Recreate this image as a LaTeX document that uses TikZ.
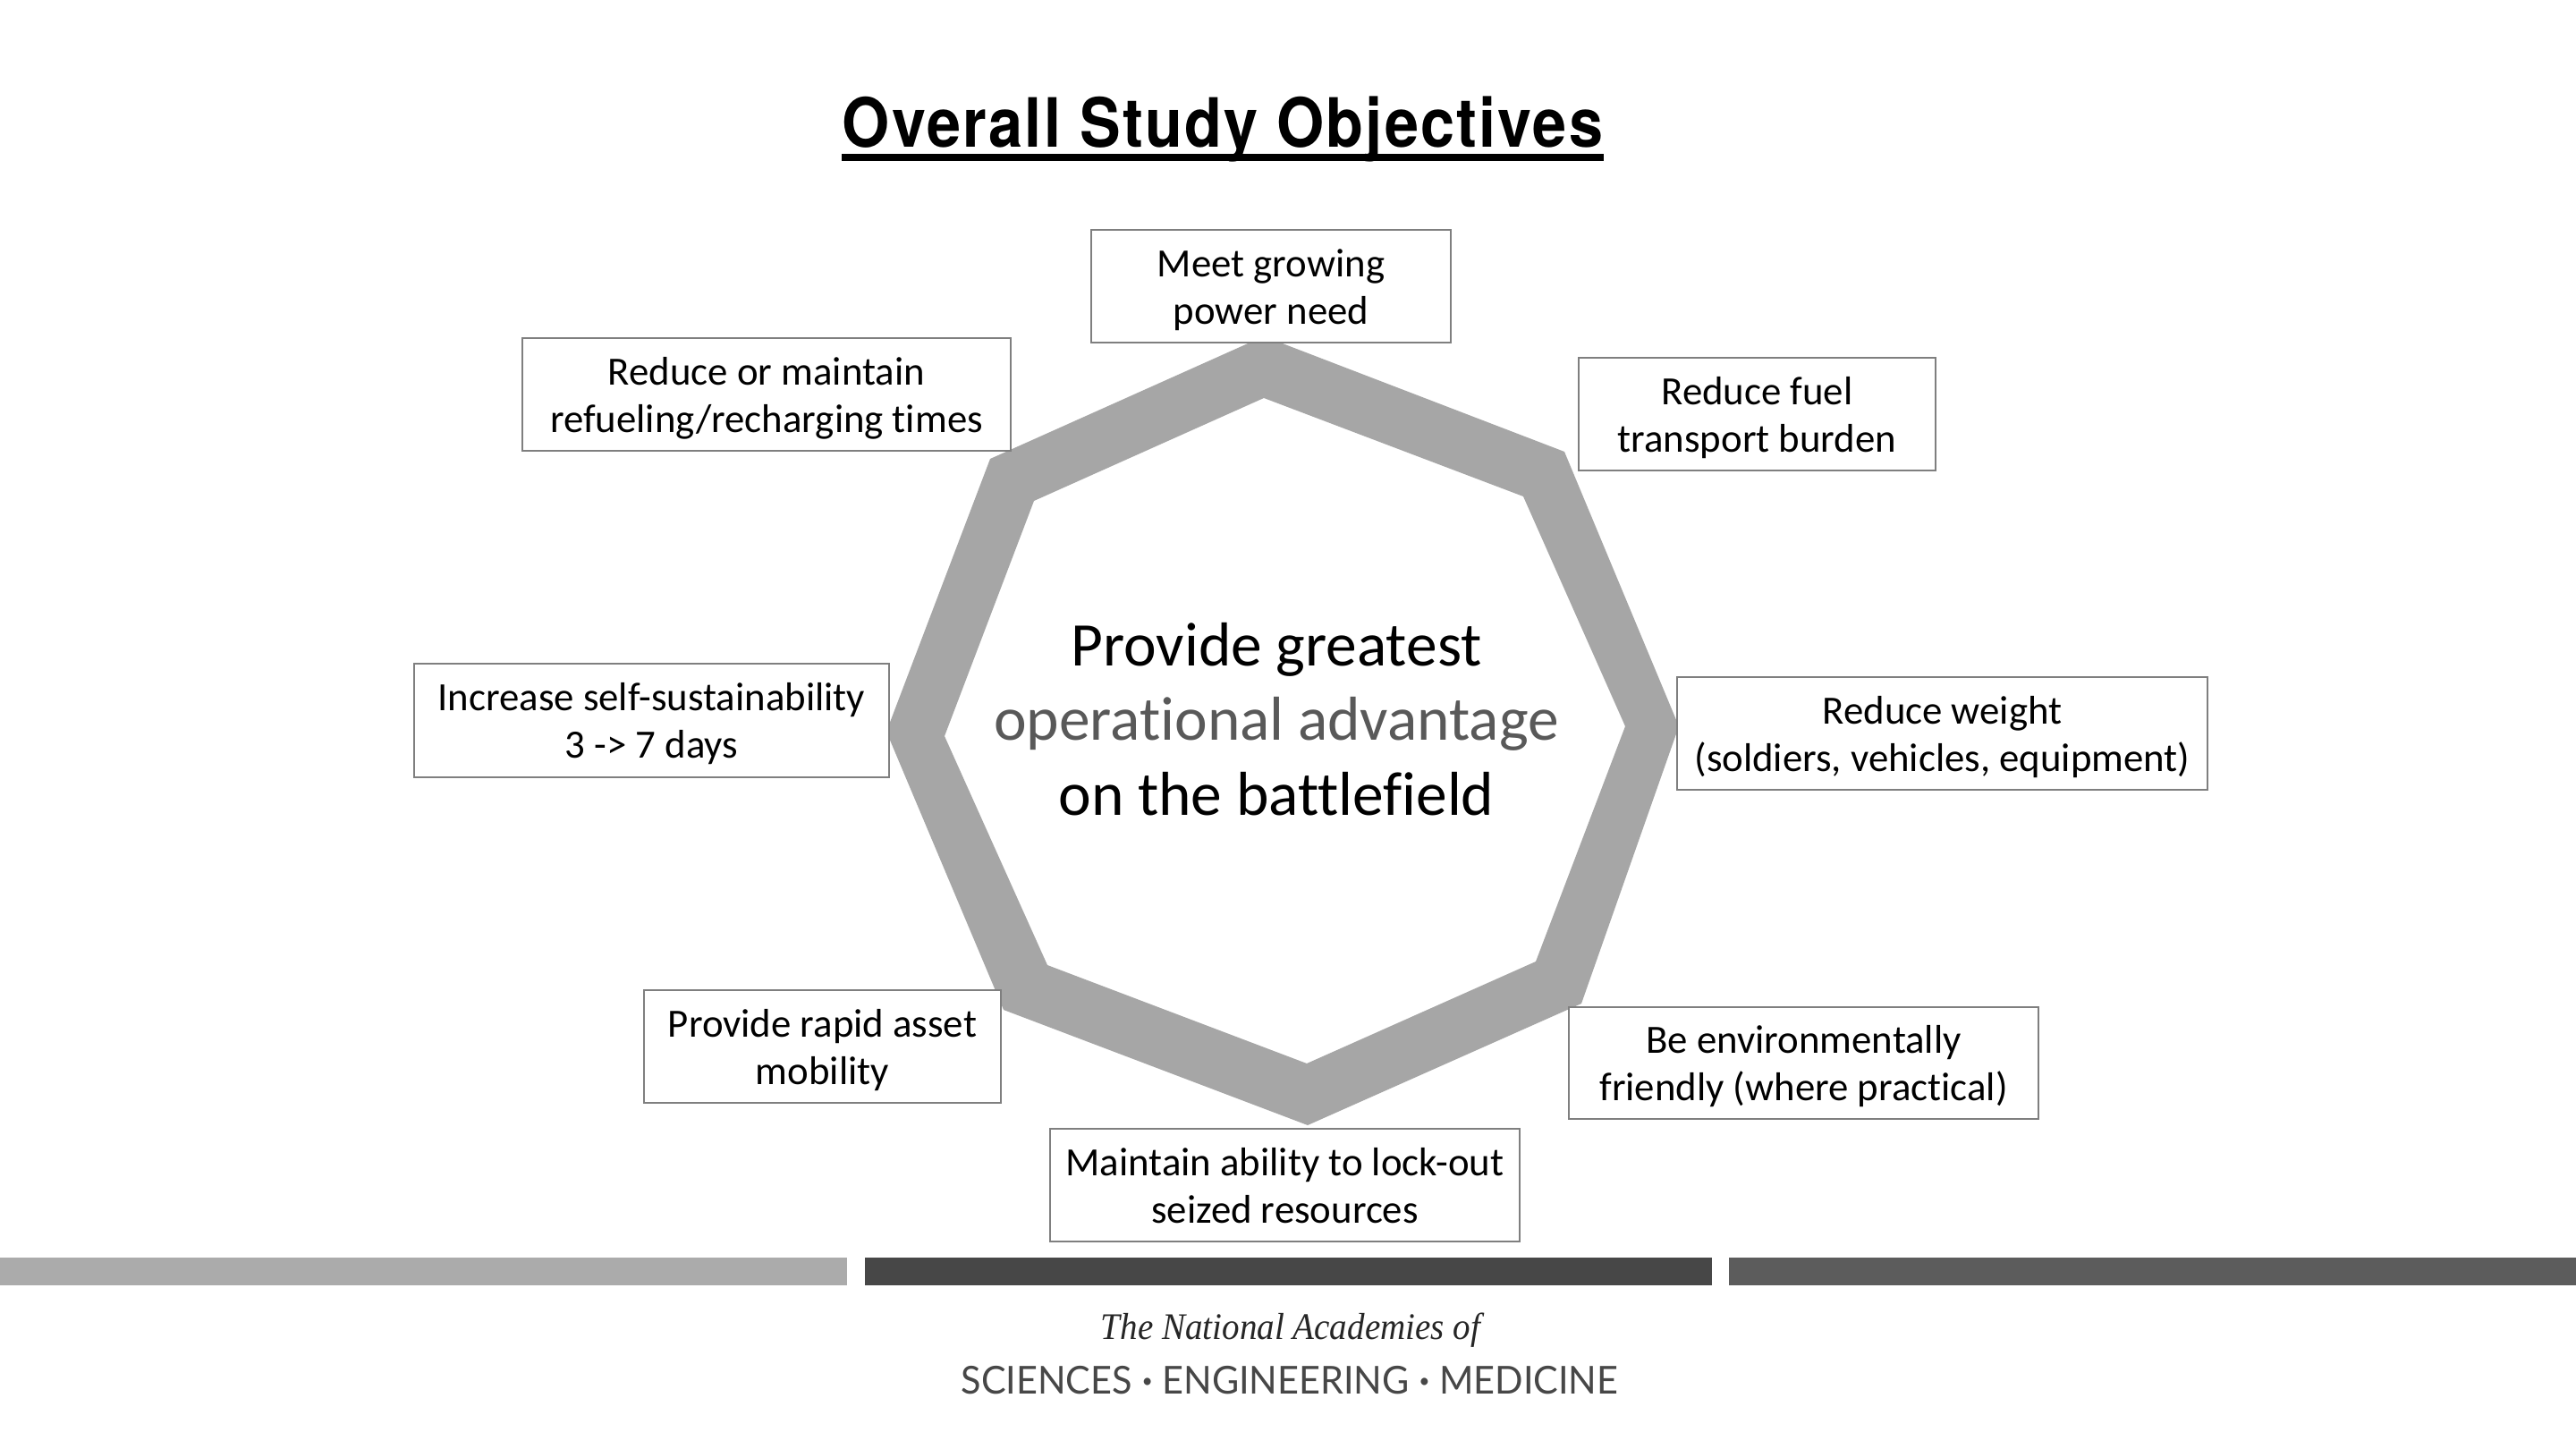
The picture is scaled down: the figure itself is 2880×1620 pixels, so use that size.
\documentclass[tikz,border=0pt]{standalone}
\usepackage{fontspec}
\setmainfont[RawFeature={-liga;-clig;-dlig}]{Carlito}
\newfontfamily\titlefont[FakeStretch=0.9,LetterSpace=2.9]{TeX Gyre Heros}
\newfontfamily\logoserif[FakeStretch=0.93]{Liberation Serif}
\newfontfamily\logosans[FakeStretch=0.963]{Lato}
\definecolor{ringgray}{HTML}{A6A6A6}
\definecolor{boxline}{HTML}{7F7F7F}
\definecolor{midtext}{HTML}{595959}
\definecolor{barA}{HTML}{ABABAB}
\definecolor{barB}{HTML}{474747}
\definecolor{barC}{HTML}{5C5C5C}
\tikzset{
  goalbox/.style={draw=boxline,line width=1.2pt,fill=white,inner sep=0pt,align=center,
    font=\fontsize{22.4}{26.6}\selectfont,text=black},
  centertext/.style={inner sep=0pt,align=center,font=\fontsize{34.7}{41.8}\selectfont},
  bar/.style={inner sep=0pt,outer sep=0pt,minimum height=15.5pt,minimum width=473.5pt,anchor=north west},
}
\newcommand{\goal}[6]{% name x1 y1 x2 y2 text
  \node[goalbox,minimum width={(#4-#2)*0.5pt},minimum height={(#5-#3)*0.5pt}] (#1) at ({(#2+#4)/2},{(#3+#5)/2}) {\rule{0pt}{22.8pt}#6\rule[-7pt]{0pt}{0pt}};}
\newcommand{\logodot}{\raisebox{0.16em}{\fontsize{11}{11}\selectfont •}}
\begin{document}
\begin{tikzpicture}[x=0.5pt,y=-0.5pt]
\useasboundingbox (0,0) rectangle (2880,1620);
\fill[white] (0,0) rectangle (2880,1620);
% title
\node[inner sep=0pt,anchor=base] (title) at (1367,165) {\titlefont\bfseries\fontsize{38}{44}\selectfont Overall Study Objectives};
\draw[line width=3.6pt,black] ([yshift=-5.5pt]title.base west) -- ([yshift=-5.5pt]title.base east);
% ring
\fill[ringgray,even odd rule]
  (1413,376) -- (1749,505) -- (1877,812) -- (1768,1122) -- (1462,1258) -- (1122,1129) -- (991,818) -- (1107,513) -- cycle
  (1413,445) -- (1703,555) -- (1817,812) -- (1717,1075) -- (1461,1189) -- (1171,1079) -- (1056,823) -- (1156,560) -- cycle;
% centre
\node[centertext] (core) at (1427,804) {Provide greatest\\{\color{midtext}operational advantage}\\on the battlefield};
% boxes
\goal{meet}{1220}{257}{1622}{383}{Meet growing\\power need}
\goal{fuel}{1765}{400}{2164}{526}{Reduce fuel\\transport burden}
\goal{weight}{1875}{757}{2468}{883}{Reduce weight\\(soldiers, vehicles, equipment)}
\goal{env}{1754}{1126}{2279}{1251}{Be environmentally\\friendly (where practical)}
\goal{lock}{1174}{1262}{1699}{1388}{Maintain ability to lock-out\\seized resources}
\goal{mob}{720}{1107}{1119}{1233}{Provide rapid asset\\mobility}
\goal{self}{463}{742}{994}{869}{Increase self-sustainability\\3 -> 7 days}
\goal{refuel}{584}{378}{1130}{504}{Reduce or maintain\\refueling/recharging times}
% bars
\node[bar,fill=barA] (barone) at (0,1406) {};
\node[bar,fill=barB] (bartwo) at (967,1406) {};
\node[bar,fill=barC] (barthree) at (1933,1406) {};
% logo
\node[inner sep=0pt,anchor=base,text=black!85] (logoa) at (1443,1497) {\logoserif\itshape\fontsize{21}{24}\selectfont The National Academies of};
\node[inner sep=0pt,anchor=base,text=black!72] (logob) at (1442,1558) {\logosans\fontsize{21.5}{24}\selectfont SCIENCES \logodot{} ENGINEERING \logodot{} MEDICINE};
\end{tikzpicture}
\end{document}
